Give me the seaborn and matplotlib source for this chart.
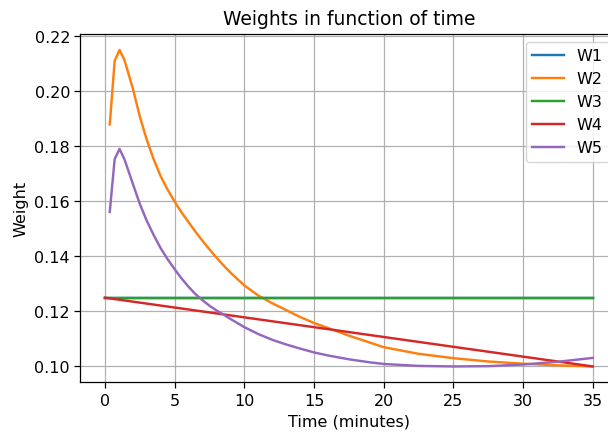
import numpy as np
import pandas as pd
import matplotlib
matplotlib.use("Agg")
import matplotlib.pyplot as plt
import seaborn as sns

# Time stamps (minutes) for the constant / linear weights
t_lin = [0.0, 35.0]
w1 = [0.125, 0.125]
w3 = [0.125, 0.125]
w4 = [0.125, 0.100]

# Time stamps (minutes) for the adaptive weights
t_dyn = [0.35, 0.70, 1.05, 1.40, 2.0, 2.5, 3.0, 3.5, 4.0, 4.5, 5.0, 5.5, 6.0,
         6.5, 7.0, 7.5, 8.0, 8.5, 9.0, 9.5, 10.0, 11.0, 12.0, 13.0, 14.0, 15.0,
         16.0, 17.5, 19.0, 20.0, 22.5, 25.0, 27.5, 30.0, 32.5, 35.0]
w2 = [0.1880, 0.2111, 0.2151, 0.2115, 0.2012, 0.1910, 0.1825, 0.1753, 0.1692,
      0.1643, 0.1600, 0.1560, 0.1525, 0.1490, 0.1457, 0.1426, 0.1396, 0.1368,
      0.1342, 0.1318, 0.1295, 0.1258, 0.1230, 0.1205, 0.1180, 0.1158,
      0.1140, 0.1112, 0.1087, 0.1070, 0.1046, 0.1030, 0.1018, 0.1010, 0.1004,
      0.1000]
w5 = [0.1562, 0.1754, 0.1791, 0.1754, 0.1665, 0.1592, 0.1530, 0.1478, 0.1430,
      0.1390, 0.1354, 0.1320, 0.1290, 0.1263, 0.1241, 0.1221, 0.1204, 0.1189,
      0.1173, 0.1158, 0.1143, 0.1118, 0.1097, 0.1080, 0.1065, 0.1051,
      0.1040, 0.1026, 0.1015, 0.1009, 0.1002, 0.1000, 0.1001, 0.1007, 0.1017,
      0.1031]

labels = ["W1", "W2", "W3", "W4", "W5"]
series = [(t_lin, w1), (t_dyn, w2), (t_lin, w3), (t_lin, w4), (t_dyn, w5)]

frames = []
for name, (t, w) in zip(labels, series):
    frames.append(pd.DataFrame({"Time": t, "Weight": w, "series": name}))
df = pd.concat(frames, ignore_index=True)

plt.rcParams["font.family"] = ["DejaVu Sans"]
plt.rcParams["font.size"] = 11.5
fig = plt.figure(figsize=(6.08, 4.35), dpi=100)
ax = fig.add_axes([0.1324, 0.1189, 0.8826, 0.8006])

colors = sns.color_palette("tab10", 5)
for name, c in zip(labels, colors):
    sub = df[df["series"] == name]
    sns.lineplot(data=sub, x="Time", y="Weight", ax=ax, color=c, label=name,
                 linewidth=1.75, sort=False, estimator=None)

ax.grid(True, color="#b0b0b0", linewidth=0.9)
ax.set_axisbelow(True)
for s in ax.spines.values():
    s.set_linewidth(0.9)
ax.tick_params(labelsize=11.5, width=0.9, length=4)
ax.set_title("Weights in function of time", fontsize=13.5, pad=7)
ax.set_xlabel("Time (minutes)", fontsize=11.5)
ax.set_ylabel("Weight", fontsize=11.5)
ax.set_xticks([0, 5, 10, 15, 20, 25, 30, 35])
yt = [0.10, 0.12, 0.14, 0.16, 0.18, 0.20, 0.22]
ax.set_yticks(yt)
ax.set_yticklabels([f"{v:.2f}" for v in yt])
ax.set_xlim(-1.75, 36.75)
ax.set_ylim(0.09424, 0.2209)
ax.legend(loc="upper right", fontsize=11.5)

fig.savefig("out.png", dpi=100)
